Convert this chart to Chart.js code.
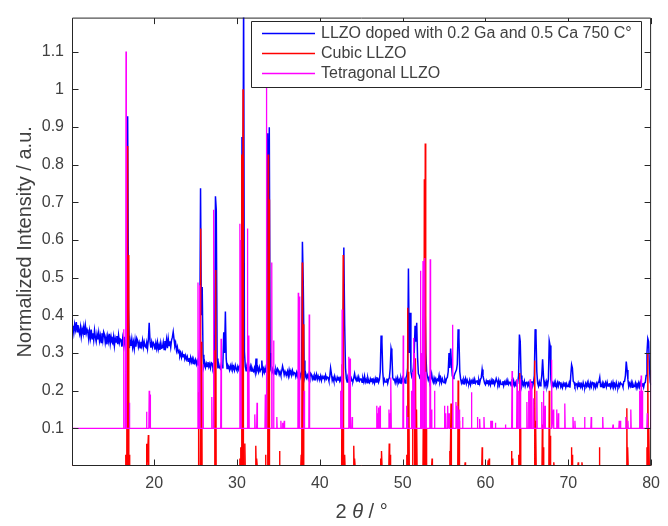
<!DOCTYPE html>
<html>
<head>
<meta charset="utf-8">
<script src="https://cdn.jsdelivr.net/npm/chart.js@4/dist/chart.umd.min.js"></script>
<style>
  html, body { margin: 0; padding: 0; background: #ffffff; }
  #wrap { width: 668px; height: 526px; }
</style>
</head>
<body>
<div id="wrap"><canvas id="c" width="668" height="526"></canvas></div>
<script>
// ---- Measured pattern: LLZO doped with 0.2 Ga and 0.5 Ca, 750 °C ----
// Intensity sampled every 0.1° from 10.0° to 80.0° (one row per degree).
const sampleStart = 10.0;
const sampleStep = 0.1;
const sampleY = [
  0.380,0.358,0.372,0.354,0.376,0.362,0.382,0.356,0.374,0.360, // 10
  0.350,0.368,0.344,0.364,0.354,0.370,0.348,0.372,0.352,0.362, // 11
  0.354,0.336,0.358,0.340,0.362,0.338,0.352,0.334,0.360,0.342, // 12
  0.330,0.350,0.336,0.354,0.332,0.346,0.328,0.352,0.334,0.356, // 13
  0.349,0.327,0.341,0.323,0.345,0.331,0.351,0.325,0.343,0.329, // 14
  0.325,0.343,0.319,0.339,0.329,0.345,0.323,0.347,0.327,0.337, // 15
  0.335,0.317,0.339,0.321,0.343,0.319,0.333,0.340,0.928,0.420, // 16
  0.313,0.333,0.319,0.337,0.315,0.329,0.311,0.335,0.317,0.339, // 17
  0.333,0.316,0.327,0.314,0.330,0.319,0.334,0.315,0.329,0.318, // 18
  0.315,0.328,0.312,0.335,0.380,0.330,0.314,0.329,0.316,0.327, // 19
  0.323,0.309,0.326,0.312,0.328,0.310,0.321,0.308,0.327,0.313, // 20
  0.314,0.328,0.309,0.332,0.318,0.336,0.313,0.338,0.320,0.331, // 21
  0.315,0.334,0.342,0.356,0.336,0.318,0.325,0.306,0.316,0.302, // 22
  0.306,0.292,0.300,0.288,0.299,0.290,0.297,0.284,0.293,0.283, // 23
  0.290,0.278,0.286,0.275,0.288,0.276,0.285,0.272,0.281,0.274, // 24
  0.282,0.270,0.279,0.268,0.285,0.310,0.737,0.400,0.475,0.295, // 25
  0.265,0.275,0.262,0.272,0.264,0.276,0.263,0.271,0.260,0.274, // 26
  0.272,0.260,0.269,0.262,0.716,0.680,0.285,0.259,0.270,0.261, // 27
  0.258,0.270,0.261,0.272,0.355,0.300,0.410,0.285,0.259,0.268, // 28
  0.264,0.255,0.266,0.257,0.268,0.256,0.263,0.254,0.267,0.258, // 29
  0.253,0.264,0.256,0.265,0.268,0.280,0.873,0.500,1.250,0.304, // 30
  0.264,0.253,0.260,0.251,0.262,0.255,0.265,0.252,0.261,0.254, // 31
  0.251,0.260,0.248,0.285,0.253,0.261,0.250,0.262,0.252,0.257, // 32
  0.280,0.247,0.258,0.249,0.260,0.248,0.262,0.883,0.600,0.899, // 33
  0.300,0.255,0.248,0.257,0.246,0.253,0.244,0.256,0.247,0.258, // 34
  0.254,0.243,0.250,0.241,0.252,0.265,0.255,0.242,0.251,0.244, // 35
  0.242,0.251,0.239,0.255,0.244,0.252,0.241,0.253,0.243,0.248, // 36
  0.246,0.237,0.248,0.239,0.250,0.238,0.245,0.236,0.249,0.595, // 37
  0.488,0.280,0.236,0.245,0.234,0.241,0.232,0.244,0.235,0.246, // 38
  0.242,0.231,0.238,0.229,0.240,0.233,0.243,0.230,0.239,0.232, // 39
  0.230,0.239,0.227,0.237,0.232,0.240,0.229,0.241,0.231,0.236, // 40
  0.235,0.226,0.237,0.260,0.245,0.227,0.234,0.225,0.238,0.229, // 41
  0.225,0.235,0.228,0.237,0.226,0.233,0.224,0.240,0.260,0.580, // 42
  0.376,0.260,0.232,0.223,0.234,0.227,0.237,0.224,0.233,0.226, // 43
  0.225,0.234,0.245,0.232,0.227,0.235,0.224,0.236,0.226,0.231, // 44
  0.231,0.222,0.233,0.224,0.238,0.223,0.230,0.221,0.234,0.225, // 45
  0.221,0.231,0.224,0.233,0.222,0.229,0.220,0.232,0.223,0.234, // 46
  0.233,0.222,0.229,0.250,0.346,0.330,0.250,0.221,0.230,0.223, // 47
  0.223,0.232,0.220,0.230,0.234,0.260,0.312,0.300,0.235,0.229, // 48
  0.230,0.221,0.232,0.223,0.234,0.222,0.229,0.220,0.233,0.224, // 49
  0.233,0.222,0.229,0.220,0.234,0.240,0.260,0.524,0.300,0.407, // 50
  0.250,0.238,0.245,0.260,0.300,0.372,0.330,0.380,0.290,0.245, // 51
  0.240,0.232,0.241,0.245,0.260,0.300,0.420,0.450,0.300,0.250, // 52
  0.238,0.228,0.235,0.224,0.233,0.245,0.229,0.222,0.234,0.226, // 53
  0.232,0.223,0.230,0.227,0.240,0.224,0.233,0.221,0.231,0.224, // 54
  0.221,0.231,0.223,0.232,0.235,0.250,0.300,0.260,0.312,0.270, // 55
  0.240,0.232,0.238,0.245,0.250,0.255,0.270,0.363,0.340,0.250, // 56
  0.231,0.220,0.227,0.218,0.229,0.222,0.232,0.219,0.228,0.221, // 57
  0.219,0.228,0.216,0.226,0.221,0.229,0.218,0.230,0.220,0.225, // 58
  0.226,0.217,0.228,0.219,0.230,0.235,0.256,0.240,0.229,0.220, // 59
  0.216,0.226,0.219,0.228,0.217,0.224,0.215,0.227,0.218,0.229, // 60
  0.227,0.216,0.223,0.232,0.225,0.218,0.228,0.215,0.224,0.217, // 61
  0.216,0.225,0.213,0.223,0.218,0.226,0.215,0.227,0.217,0.222, // 62
  0.222,0.213,0.230,0.215,0.226,0.214,0.221,0.212,0.225,0.222, // 63
  0.240,0.349,0.330,0.240,0.213,0.222,0.215,0.225,0.212,0.221, // 64
  0.224,0.213,0.220,0.211,0.222,0.215,0.225,0.212,0.221,0.240, // 65
  0.363,0.350,0.250,0.220,0.212,0.223,0.213,0.221,0.240,0.283, // 66
  0.240,0.213,0.222,0.212,0.224,0.214,0.230,0.332,0.320,0.230, // 67
  0.210,0.220,0.213,0.222,0.211,0.218,0.209,0.221,0.212,0.223, // 68
  0.221,0.210,0.217,0.208,0.219,0.212,0.222,0.209,0.218,0.211, // 69
  0.211,0.220,0.208,0.240,0.269,0.260,0.225,0.222,0.212,0.217, // 70
  0.218,0.209,0.220,0.211,0.222,0.210,0.217,0.208,0.221,0.212, // 71
  0.209,0.219,0.212,0.221,0.210,0.217,0.208,0.220,0.211,0.222, // 72
  0.221,0.210,0.217,0.208,0.219,0.212,0.222,0.224,0.235,0.211, // 73
  0.211,0.220,0.208,0.218,0.213,0.221,0.210,0.222,0.212,0.217, // 74
  0.218,0.209,0.220,0.211,0.222,0.210,0.217,0.208,0.221,0.212, // 75
  0.209,0.219,0.212,0.221,0.218,0.217,0.210,0.224,0.225,0.240, // 76
  0.277,0.255,0.230,0.211,0.219,0.212,0.222,0.209,0.218,0.211, // 77
  0.211,0.220,0.208,0.218,0.213,0.221,0.210,0.222,0.212,0.217, // 78
  0.218,0.209,0.220,0.222,0.240,0.300,0.338,0.330,0.260,0.222, // 79
  0.215                                                        // 80
];

// ---- Reference pattern: cubic LLZO (baseline 0) as [2θ, intensity] ----
const cubicBase = 0;
const cubicPeaks = [
  [16.55,0.03],[16.74,0.849],[16.88,0.56],[17.0,0.03],
  [19.1,0.059],[19.3,0.082],
  [25.37,0.196],[25.6,0.63],[25.74,0.33],
  [27.3,0.307],[27.44,0.52],
  [30.35,0.02],[30.48,0.05],[30.6,0.827],[30.73,1.0],[30.95,0.06],
  [32.27,0.054],[32.4,0.02],
  [33.45,0.03],[33.76,0.827],[33.88,0.707],
  [35.14,0.04],
  [37.75,0.03],[37.88,0.54],[38.04,0.376],
  [42.68,0.27],[42.82,0.56],[43.0,0.03],
  [44.1,0.054],[44.22,0.02],
  [47.35,0.02],[47.47,0.04],
  [48.38,0.06],[48.5,0.03],
  [50.48,0.03],[50.62,0.42],[50.76,0.25],
  [51.2,0.1],[51.45,0.2],[51.57,0.286],[51.7,0.15],
  [52.5,0.15],[52.62,0.761],[52.73,0.856],[52.85,0.1],
  [53.55,0.02],
  [55.7,0.04],[55.84,0.166],
  [56.7,0.227],[56.82,0.12],
  [57.55,0.01],
  [59.6,0.05],
  [60.32,0.015],[60.45,0.02],
  [63.15,0.04],[63.28,0.02],
  [64.0,0.03],[64.12,0.247],[64.24,0.1],
  [65.95,0.28],[66.08,0.12],
  [66.87,0.11],[66.99,0.05],
  [67.7,0.2],[67.82,0.08],
  [68.25,0.01],
  [70.38,0.05],[70.5,0.03],
  [71.2,0.01],[71.65,0.01],
  [73.76,0.05],
  [77.07,0.153],[77.19,0.05],
  [79.5,0.05],[79.62,0.3],[79.74,0.1]
];

// ---- Reference pattern: tetragonal LLZO (offset baseline 0.1) ----
const tetraBase = 0.1;
const tetraPeaks = [
  [16.33,0.363],[16.6,1.10],[17.01,0.168],
  [19.08,0.144],[19.4,0.2],[19.5,0.19],
  [25.29,0.487],[25.49,0.48],[25.89,0.27],
  [26.96,0.183],[27.16,0.68],
  [28.08,0.338],
  [30.35,0.643],[30.46,0.6],
  [31.26,0.63],[31.43,0.346],
  [32.15,0.137],[32.42,0.168],
  [33.42,0.19],[33.55,1.02],
  [34.2,0.54],[34.42,0.333],
  [34.81,0.13],[35.3,0.12],[35.5,0.115],[35.7,0.12],
  [37.4,0.46],[37.55,0.45],[38.11,0.2],[38.72,0.402],
  [42.5,0.2],[42.7,0.415],[43.5,0.29],[43.65,0.285],[43.9,0.13],
  [46.88,0.16],[47.0,0.14],[47.1,0.155],[47.27,0.16],
  [48.35,0.15],[48.46,0.14],[48.59,0.235],
  [50.07,0.346],[50.46,0.16],[50.6,0.13],
  [51.06,0.2],[51.2,0.25],[51.34,0.34],[51.45,0.3],
  [52.15,0.518],[52.3,0.3],[52.46,0.544],[52.65,0.552],[52.8,0.25],[53.33,0.549],[53.5,0.15],
  [53.85,0.2],
  [55.05,0.16],[55.2,0.14],[55.44,0.16],[55.6,0.14],
  [56.04,0.375],[56.44,0.17],[56.6,0.16],[56.83,0.15],[57.24,0.13],
  [58.31,0.196],[59.03,0.13],[59.3,0.125],[59.82,0.13],
  [60.62,0.12],[60.8,0.12],[61.2,0.115],[62.41,0.11],
  [63.21,0.252],[63.81,0.23],[64.0,0.2],[64.2,0.23],
  [65.0,0.17],[65.2,0.2],[65.4,0.23],[65.6,0.22],[65.8,0.18],[66.2,0.2],
  [66.8,0.17],[67.0,0.2],[67.19,0.16],[67.99,0.282],[68.2,0.15],
  [68.59,0.15],[68.8,0.14],[69.58,0.166],[70.57,0.13],[70.8,0.12],
  [71.97,0.13],[72.77,0.13],[74.16,0.13],[75.4,0.11],[76.15,0.12],[76.3,0.12],
  [76.95,0.13],[77.2,0.12],[77.55,0.15],[78.6,0.2],[78.8,0.24],[78.95,0.2],[79.53,0.14],[80.0,0.255]
];

const seriesNames = [
  'LLZO doped with 0.2 Ga and 0.5 Ca 750 C\u00B0',
  'Cubic LLZO',
  'Tetragonal LLZO'
];
const seriesColors = ['#0000ff', '#ff0000', '#ff00ff'];

const xTicks = [20, 30, 40, 50, 60, 70, 80];
const yTicks = [0.1, 0.2, 0.3, 0.4, 0.5, 0.6, 0.7, 0.8, 0.9, 1.0, 1.1];
const xRange = [10.08, 80];
const yRange = [0, 1.19];

const xTitle = ['2 ', '\u03B8', ' / \u00B0'];
const yTitle = 'Normalized Intensity / a.u.';

// ---- build line points ----
const measured = sampleY.map((y, i) => ({ x: +(sampleStart + i * sampleStep).toFixed(1), y }));

// narrow peaks: rise from the baseline to the peak height and back
function peakLine(peaks, base, halfWidth) {
  const pts = [{ x: 10, y: base }];
  peaks.forEach(([pos, h]) => {
    pts.push({ x: pos - halfWidth, y: base }, { x: pos, y: h }, { x: pos + halfWidth, y: base });
  });
  pts.push({ x: 80.5, y: base });
  return pts;
}
const cubic = peakLine(cubicPeaks, cubicBase, 0.045);
const tetra = peakLine(tetraPeaks, tetraBase, 0.045);

const FONT = '"Liberation Sans", Arial, Helvetica, sans-serif';
const TEXT = '#404040';
const AXIS = '#262626';

// box with inward tick marks on all four sides, drawn over the data
const framePlugin = {
  id: 'frame',
  afterDatasetsDraw(chart) {
    const { ctx, chartArea: a, scales } = chart;
    const L = a.left + 0.5, R = a.right - 0.5, T = a.top + 0.5, B = a.bottom - 0.5;
    ctx.save();
    ctx.strokeStyle = AXIS;
    ctx.lineWidth = 1;
    ctx.beginPath();
    ctx.rect(L, T, R - L, B - T);
    const tl = 6;
    xTicks.forEach(v => {
      const px = Math.round(scales.x.getPixelForValue(v)) + 0.5;
      ctx.moveTo(px, B); ctx.lineTo(px, B - tl);
      ctx.moveTo(px, T); ctx.lineTo(px, T + tl);
    });
    yTicks.forEach(v => {
      const py = Math.round(scales.y.getPixelForValue(v)) + 0.5;
      ctx.moveTo(L, py); ctx.lineTo(L + tl, py);
      ctx.moveTo(R, py); ctx.lineTo(R - tl, py);
    });
    ctx.stroke();
    ctx.restore();
  }
};

// axis titles
const titlePlugin = {
  id: 'titles',
  afterDraw(chart) {
    const { ctx, chartArea: a } = chart;
    ctx.save();
    ctx.fillStyle = TEXT;
    ctx.textBaseline = 'alphabetic';
    // x title with italic theta
    const fonts = ['20px ' + FONT, 'italic 20px ' + FONT, '20px ' + FONT];
    let total = 0;
    const widths = xTitle.map((s, i) => { ctx.font = fonts[i]; const w = ctx.measureText(s).width; total += w; return w; });
    let x = (a.left + a.right) / 2 - total / 2;
    xTitle.forEach((s, i) => { ctx.font = fonts[i]; ctx.textAlign = 'left'; ctx.fillText(s, x, 518); x += widths[i]; });
    // y title
    ctx.translate(31, (a.top + a.bottom) / 2);
    ctx.rotate(-Math.PI / 2);
    ctx.font = '20px ' + FONT;
    ctx.textAlign = 'center';
    ctx.fillText(yTitle, 0, 0);
    ctx.restore();
  }
};

// boxed legend inside the plot, upper right
const legendPlugin = {
  id: 'boxLegend',
  afterDraw(chart) {
    const { ctx } = chart;
    const bx = 251, by = 21, bw = 390, bh = 66;
    ctx.save();
    ctx.fillStyle = '#ffffff';
    ctx.fillRect(bx, by, bw, bh);
    ctx.lineWidth = 1;
    ctx.strokeStyle = AXIS;
    ctx.beginPath();
    ctx.rect(bx + 0.5, by + 0.5, bw, bh);
    ctx.stroke();
    ctx.font = '16px ' + FONT;
    ctx.textBaseline = 'middle';
    ctx.textAlign = 'left';
    seriesNames.forEach((name, i) => {
      const cy = by + 12 + i * 20;
      ctx.beginPath();
      ctx.strokeStyle = seriesColors[i];
      ctx.lineWidth = 1.5;
      ctx.moveTo(262, cy + 0.5);
      ctx.lineTo(315, cy + 0.5);
      ctx.stroke();
      ctx.fillStyle = TEXT;
      ctx.fillText(name, 321, cy + 1);
    });
    ctx.restore();
  }
};

const tickFont = { family: FONT, size: 16 };

// datasets listed top-most first: tetragonal over cubic over the measured trace
new Chart(document.getElementById('c'), {
  type: 'line',
  data: {
    datasets: [
      { label: seriesNames[2], data: tetra, borderColor: seriesColors[2], borderWidth: 1.3, clip: 0 },
      { label: seriesNames[1], data: cubic, borderColor: seriesColors[1], borderWidth: 1.4, clip: 0 },
      { label: seriesNames[0], data: measured, borderColor: seriesColors[0], borderWidth: 1.5, clip: 0 }
    ]
  },
  options: {
    responsive: false,
    animation: false,
    devicePixelRatio: 1,
    events: [],
    elements: { point: { radius: 0 }, line: { tension: 0, fill: false } },
    layout: { padding: { left: 0, right: 11, top: 3, bottom: 0 } },
    plugins: { legend: { display: false }, tooltip: { enabled: false }, title: { display: false } },
    scales: {
      x: {
        type: 'linear',
        min: xRange[0], max: xRange[1],
        afterBuildTicks: s => { s.ticks = xTicks.map(v => ({ value: v })); },
        afterFit: s => { s.height = 60; },
        ticks: { font: tickFont, color: TEXT, padding: 8, maxRotation: 0, autoSkip: false, callback: v => String(v) },
        grid: { display: false, drawTicks: false },
        border: { display: false }
      },
      y: {
        type: 'linear',
        min: yRange[0], max: yRange[1],
        afterBuildTicks: s => { s.ticks = yTicks.map(v => ({ value: v })); },
        afterFit: s => { s.width = 72; },
        ticks: { font: tickFont, color: TEXT, padding: 8, autoSkip: false, callback: v => String(Math.round(v * 10) / 10) },
        grid: { display: false, drawTicks: false },
        border: { display: false }
      }
    }
  },
  plugins: [framePlugin, titlePlugin, legendPlugin]
});
</script>
</body>
</html>
